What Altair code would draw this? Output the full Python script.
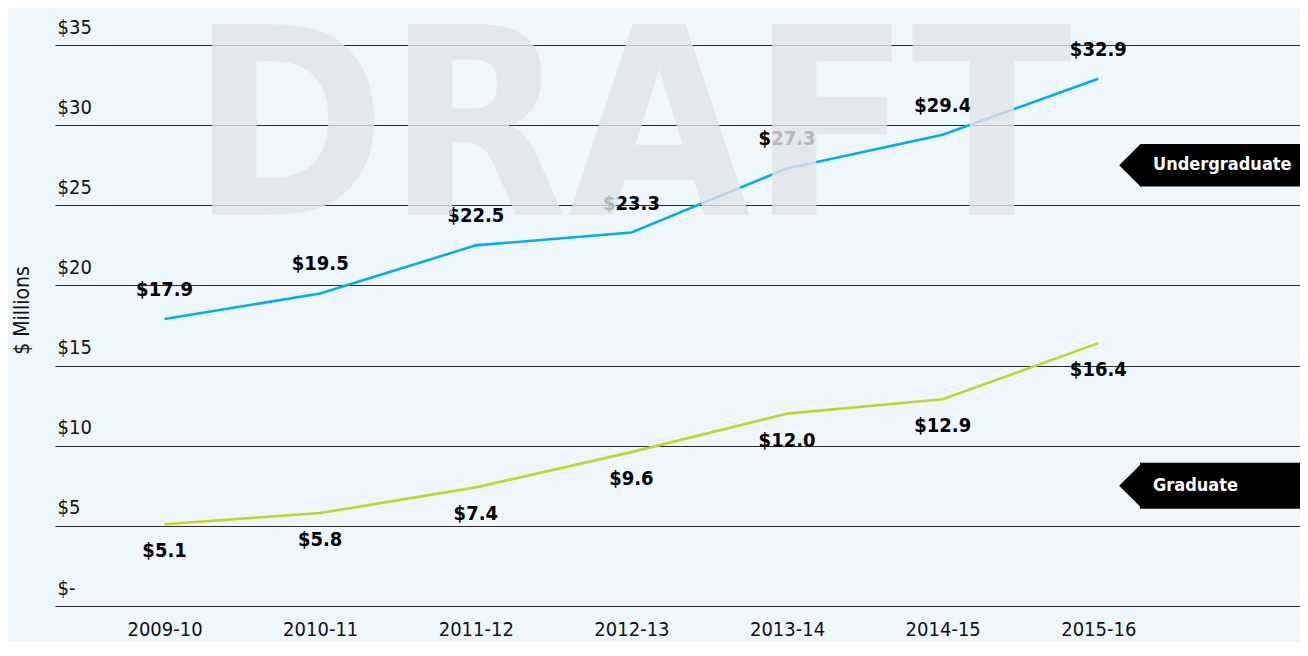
import altair as alt
import pandas as pd

# ---- data ----
years = ["2009-10", "2010-11", "2011-12", "2012-13", "2013-14", "2014-15", "2015-16"]
undergrad = [17.9, 19.5, 22.5, 23.3, 27.3, 29.4, 32.9]
grad = [5.1, 5.8, 7.4, 9.6, 12.0, 12.9, 16.4]
series_names = ["Undergraduate", "Graduate"]
series_colors = ["#00aeef", "#bed62f"]
y_ticks = [0, 5, 10, 15, 20, 25, 30, 35]

# legend tags (series name, vertical centre in $M)
tag_series = ["Undergraduate", "Graduate"]
tag_mid = [27.5, 7.5]
tag_half = [1.33, 1.43]

# watermark
wm_text = ["DRAFT"]
wm_year = ["2012-13"]
wm_val = [24.4]

FONT = "'DejaVu Sans Condensed', 'DejaVu Sans', sans-serif"

rows = []
for y, v in zip(years, undergrad):
    rows.append({"year": y, "value": v, "series": "Undergraduate", "label": f"${v:.1f}"})
for y, v in zip(years, grad):
    rows.append({"year": y, "value": v, "series": "Graduate", "label": f"${v:.1f}"})
df = pd.DataFrame(rows)

tags = pd.DataFrame({
    "series": tag_series,
    "ymid": tag_mid,
    "ylo": [m - h for m, h in zip(tag_mid, tag_half)],
    "yhi": [m + h for m, h in zip(tag_mid, tag_half)],
})
wm = pd.DataFrame({"text": wm_text, "year": wm_year, "value": wm_val})

W, H = 1245, 561

xscale = alt.Scale(domain=years, padding=1.042, align=0.352)
yscale = alt.Scale(domain=[0, 35], nice=False, zero=True)

x_enc = alt.X(
    "year:N", scale=xscale, title=None,
    axis=alt.Axis(domain=False, ticks=False, tickSize=0, labelAngle=0, labelPadding=13,
                  labelFont=FONT, labelFontSize=20, labelColor="#111111", grid=False),
)
y_enc = alt.Y(
    "value:Q", scale=yscale, title="$ Millions",
    axis=alt.Axis(values=y_ticks, grid=True, gridColor="#2a2a2a", gridWidth=1.2,
                  domain=False, ticks=False, tickSize=0,
                  labelAlign="left", labelBaseline="middle", labelPadding=-2, labelOffset=-18,
                  labelFlush=False, labelOverlap=False,
                  labelExpr="datum.value == 0 ? '$-' : '$' + datum.value",
                  labelFont=FONT, labelFontSize=20, labelColor="#111111",
                  titleFont=FONT, titleFontSize=21, titleFontWeight="normal", titleColor="#111111",
                  titleAngle=270, titleAlign="center", titleBaseline="middle",
                  titleX=-33, titleY=265),
)

color = alt.Color("series:N", scale=alt.Scale(domain=series_names, range=series_colors), legend=None)

lines = alt.Chart(df).mark_line(strokeWidth=2.6).encode(x=x_enc, y=y_enc, color=color, detail="series:N")

lab_up = alt.Chart(df).transform_filter(alt.datum.series == "Undergraduate").mark_text(
    font=FONT, fontWeight="bold", fontSize=20, color="#000000", dy=-29
).encode(x="year:N", y="value:Q", text="label:N")

lab_dn = alt.Chart(df).transform_filter(alt.datum.series == "Graduate").mark_text(
    font=FONT, fontWeight="bold", fontSize=20, color="#000000", dy=27
).encode(x="year:N", y="value:Q", text="label:N")

watermark = alt.Chart(wm).mark_text(
    font=FONT, fontWeight="bold", fontSize=262, color="#e1e5e8", opacity=0.8,
    align="center", baseline="alphabetic"
).encode(x="year:N", y="value:Q", text="text:N")

tag_box = alt.Chart(tags).mark_rect(color="#000000").encode(
    x=alt.value(1085), x2=alt.value(W), y="ylo:Q", y2="yhi:Q"
)
tag_arrow = alt.Chart(tags).mark_point(
    shape="M0,-1L-1,0L0,1Z", filled=True, size=1900, color="#000000", opacity=1, strokeWidth=0
).encode(x=alt.value(1086), y="ymid:Q")
tag_text = alt.Chart(tags).mark_text(
    font=FONT, fontWeight="bold", fontSize=18, color="#ffffff", align="left", baseline="middle"
).encode(x=alt.value(1098), y="ymid:Q", text="series:N")

chart = alt.layer(
    lines, lab_up, lab_dn, watermark, tag_box, tag_arrow, tag_text
).properties(
    width=W, height=H,
    autosize=alt.AutoSizeParams(type="none"),
    padding={"left": 47, "top": 37, "right": 0, "bottom": 36},
    background="#eff7fc",
).configure_view(stroke=None)

chart.save("out.html", embed_options={"renderer": "svg", "actions": False})
